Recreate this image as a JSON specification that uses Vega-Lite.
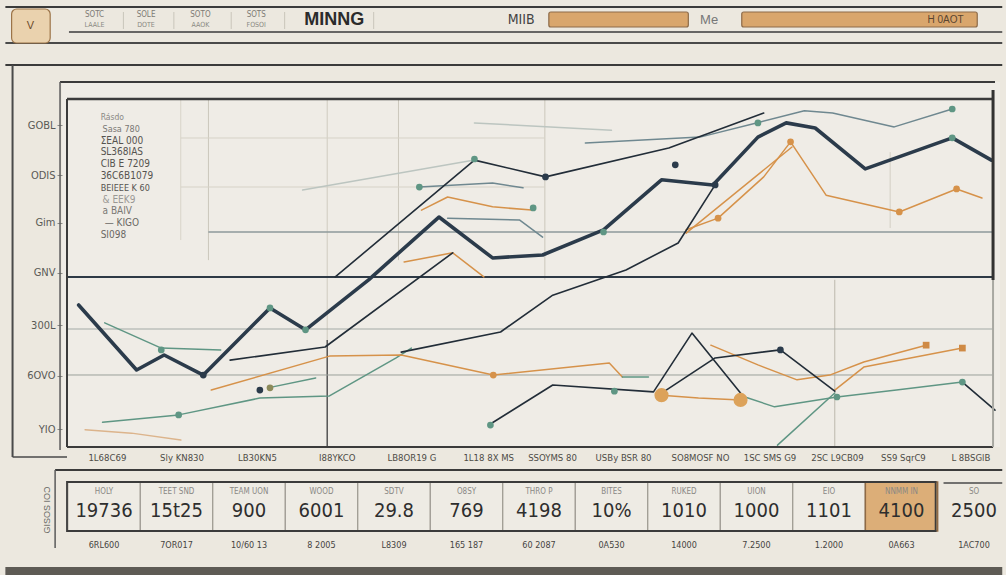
{
"$schema":"https://vega.github.io/schema/vega-lite/v6.json",
"width":938,"height":365,
"autosize":{"type":"none"},
"padding":{"left":62,"top":82,"right":6,"bottom":128},
"background":"#ece8df",
"config":{"view":{"stroke":null,"fill":"#efece6"},"font":"Liberation Sans"},
"datasets":{
"lines":[
{"s":1,"k":"navy","x":-0.24,"y":38.9},{"s":1,"k":"navy","x":0.56,"y":21.1},{"s":1,"k":"navy","x":0.94,"y":25.2},{"s":1,"k":"navy","x":1.48,"y":19.7},{"s":1,"k":"navy","x":2.40,"y":38.1},{"s":1,"k":"navy","x":2.89,"y":32.1},{"s":1,"k":"navy","x":3.76,"y":45.8},{"s":1,"k":"navy","x":4.73,"y":63.0},{"s":1,"k":"navy","x":5.47,"y":51.8},{"s":1,"k":"navy","x":6.16,"y":52.6},{"s":1,"k":"navy","x":7.00,"y":59.5},{"s":1,"k":"navy","x":7.80,"y":73.2},{"s":1,"k":"navy","x":8.51,"y":71.8},{"s":1,"k":"navy","x":9.13,"y":84.9},{"s":1,"k":"navy","x":9.52,"y":88.8},{"s":1,"k":"navy","x":9.92,"y":87.4},{"s":1,"k":"navy","x":10.61,"y":76.2},{"s":1,"k":"navy","x":11.81,"y":84.7},{"s":1,"k":"navy","x":12.35,"y":78.6},
{"s":2,"k":"ink","x":3.30,"y":46.6},{"s":2,"k":"ink","x":5.22,"y":78.6},{"s":2,"k":"ink","x":6.20,"y":74.0},{"s":2,"k":"ink","x":7.90,"y":81.9},{"s":2,"k":"ink","x":9.21,"y":91.5},
{"s":3,"k":"ink","x":4.21,"y":26.0},{"s":3,"k":"ink","x":5.58,"y":31.5},{"s":3,"k":"ink","x":6.30,"y":41.6},{"s":3,"k":"ink","x":7.31,"y":48.5},{"s":3,"k":"ink","x":8.03,"y":55.9},{"s":3,"k":"ink","x":8.54,"y":71.8},
{"s":4,"k":"ink","x":1.85,"y":23.8},{"s":4,"k":"ink","x":3.16,"y":27.4},{"s":4,"k":"ink","x":4.92,"y":53.2},
{"s":5,"k":"ink","x":5.44,"y":6.3},{"s":5,"k":"ink","x":6.30,"y":17.0},{"s":5,"k":"ink","x":7.69,"y":15.1},{"s":5,"k":"ink","x":8.22,"y":31.2},{"s":5,"k":"ink","x":8.89,"y":14.8},
{"s":6,"k":"ink","x":7.76,"y":14.2},{"s":6,"k":"ink","x":8.54,"y":24.4},{"s":6,"k":"ink","x":9.44,"y":26.6},{"s":6,"k":"ink","x":10.19,"y":15.3},
{"s":7,"k":"ink","x":11.95,"y":17.8},{"s":7,"k":"ink","x":12.40,"y":10.1},
{"s":8,"k":"slate","x":6.75,"y":83.3},{"s":8,"k":"slate","x":8.33,"y":84.9},{"s":8,"k":"slate","x":9.15,"y":89.0},{"s":8,"k":"slate","x":9.77,"y":92.1},{"s":8,"k":"slate","x":10.16,"y":91.5},{"s":8,"k":"slate","x":11.01,"y":87.7},{"s":8,"k":"slate","x":11.81,"y":92.6},
{"s":9,"k":"faint","x":5.22,"y":88.8},{"s":9,"k":"faint","x":7.11,"y":86.8},
{"s":10,"k":"faint","x":2.85,"y":70.4},{"s":10,"k":"faint","x":5.22,"y":78.6},
{"s":11,"k":"teal","x":0.09,"y":6.8},{"s":11,"k":"teal","x":1.14,"y":8.8},{"s":11,"k":"teal","x":2.26,"y":13.4},{"s":11,"k":"teal","x":3.22,"y":14.0},{"s":11,"k":"teal","x":4.14,"y":24.4},{"s":11,"k":"teal","x":4.35,"y":27.1},
{"s":12,"k":"teal","x":0.12,"y":34.0},{"s":12,"k":"teal","x":0.90,"y":27.1},{"s":12,"k":"teal","x":1.72,"y":26.6},
{"s":13,"k":"teal","x":2.37,"y":16.2},{"s":13,"k":"teal","x":3.03,"y":18.9},
{"s":14,"k":"teal","x":8.92,"y":13.9},{"s":14,"k":"teal","x":9.36,"y":11.0},{"s":14,"k":"teal","x":10.22,"y":13.7},{"s":14,"k":"teal","x":11.04,"y":15.6},{"s":14,"k":"teal","x":11.95,"y":17.8},
{"s":15,"k":"teal","x":9.40,"y":0.5},{"s":15,"k":"teal","x":10.19,"y":14.8},
{"s":16,"k":"slate","x":4.46,"y":71.2},{"s":16,"k":"slate","x":5.47,"y":72.3},{"s":16,"k":"slate","x":5.89,"y":71.0},
{"s":17,"k":"slate","x":4.85,"y":62.7},{"s":17,"k":"slate","x":5.84,"y":62.2},{"s":17,"k":"slate","x":6.16,"y":57.5},
{"s":18,"k":"lorange","x":-0.15,"y":4.7},{"s":18,"k":"lorange","x":0.49,"y":3.8},{"s":18,"k":"lorange","x":1.17,"y":1.9},
{"s":19,"k":"orange","x":1.59,"y":15.6},{"s":19,"k":"orange","x":3.22,"y":24.9},{"s":19,"k":"orange","x":4.21,"y":25.2},{"s":19,"k":"orange","x":5.48,"y":19.7},{"s":19,"k":"orange","x":7.08,"y":23.0},{"s":19,"k":"orange","x":7.26,"y":19.2},
{"s":20,"k":"orange","x":7.80,"y":14.2},{"s":20,"k":"orange","x":8.31,"y":13.4},{"s":20,"k":"orange","x":8.89,"y":12.9},
{"s":21,"k":"orange","x":8.48,"y":27.9},{"s":21,"k":"orange","x":9.13,"y":22.5},{"s":21,"k":"orange","x":9.67,"y":18.4},{"s":21,"k":"orange","x":10.12,"y":19.7},{"s":21,"k":"orange","x":10.59,"y":23.3},{"s":21,"k":"orange","x":11.45,"y":27.9},
{"s":22,"k":"orange","x":10.19,"y":15.6},{"s":22,"k":"orange","x":10.59,"y":21.9},{"s":22,"k":"orange","x":11.95,"y":27.1},
{"s":23,"k":"orange","x":4.49,"y":64.9},{"s":23,"k":"orange","x":4.85,"y":68.5},{"s":23,"k":"orange","x":5.47,"y":65.8},{"s":23,"k":"orange","x":6.01,"y":64.9},
{"s":24,"k":"orange","x":4.25,"y":50.7},{"s":24,"k":"orange","x":4.92,"y":53.2},{"s":24,"k":"orange","x":5.35,"y":46.6},
{"s":25,"k":"orange","x":8.14,"y":59.5},{"s":25,"k":"orange","x":8.58,"y":62.7},{"s":25,"k":"orange","x":9.21,"y":74.0},{"s":25,"k":"orange","x":9.58,"y":83.6},{"s":25,"k":"orange","x":10.07,"y":69.0},{"s":25,"k":"orange","x":11.08,"y":64.4},{"s":25,"k":"orange","x":11.87,"y":70.7},{"s":25,"k":"orange","x":12.22,"y":68.2},
{"s":26,"k":"orange","x":8.14,"y":58.6},{"s":26,"k":"orange","x":9.60,"y":82.2},
{"s":27,"k":"teal","x":7.26,"y":19.2},{"s":27,"k":"teal","x":7.62,"y":19.2}
],
"dots":[
{"k":"navy","x":6.20,"y":74.0},{"k":"navy","x":7.99,"y":77.3},{"k":"navy","x":8.54,"y":71.8},{"k":"navy","x":9.44,"y":26.6},{"k":"navy","x":2.26,"y":15.6},{"k":"navy","x":1.48,"y":19.7},
{"k":"teal","x":5.22,"y":78.9},{"k":"teal","x":9.13,"y":88.8},{"k":"teal","x":11.81,"y":84.7},{"k":"teal","x":11.81,"y":92.6},{"k":"teal","x":7.00,"y":58.9},{"k":"teal","x":4.46,"y":71.2},{"k":"teal","x":6.03,"y":65.5},{"k":"teal","x":2.40,"y":38.1},{"k":"teal","x":2.89,"y":32.1},{"k":"teal","x":0.90,"y":26.6},{"k":"teal","x":7.15,"y":15.3},{"k":"teal","x":10.22,"y":13.7},{"k":"teal","x":11.95,"y":17.8},{"k":"teal","x":5.44,"y":6.0},{"k":"teal","x":1.14,"y":8.8},
{"k":"orange","x":8.58,"y":62.7},{"k":"orange","x":11.08,"y":64.4},{"k":"orange","x":11.87,"y":70.7},{"k":"orange","x":5.48,"y":19.7},{"k":"orange","x":9.58,"y":83.6},
{"k":"big","x":7.80,"y":14.2},{"k":"big","x":8.89,"y":12.9},
{"k":"sq","x":11.45,"y":27.9},{"k":"sq","x":11.95,"y":27.1},
{"k":"olive","x":2.40,"y":16.2}
],
"cells":[
{"col":0,"top":"HOLY","val":"19736","bot":"6RL600"},
{"col":1,"top":"TEET SND","val":"15t25","bot":"7OR017"},
{"col":2,"top":"TEAM UON","val":"900","bot":"10/60 13"},
{"col":3,"top":"WOOD","val":"6001","bot":"8 2005"},
{"col":4,"top":"SDTV","val":"29.8","bot":"L8309"},
{"col":5,"top":"O8SY","val":"769","bot":"165 187"},
{"col":6,"top":"THRO P","val":"4198","bot":"60 2087"},
{"col":7,"top":"BITES","val":"10%","bot":"0A530"},
{"col":8,"top":"RUKED","val":"1010","bot":"14000"},
{"col":9,"top":"UION","val":"1000","bot":"7.2500"},
{"col":10,"top":"EIO","val":"1101","bot":"1.2000"},
{"col":11,"top":"NNMM IN","val":"4100","bot":"0A663"},
{"col":12,"top":"SO","val":"2500","bot":"1AC700"}
],
"hdr":[
{"t":"SOTC","at":-0.02,"r":1},{"t":"LAALE","at":-0.02,"r":2},
{"t":"SOLE","at":0.69,"r":1},{"t":"DOTE","at":0.69,"r":2},
{"t":"SOTO","at":1.44,"r":1},{"t":"AAOK","at":1.44,"r":2},
{"t":"SOTS","at":2.21,"r":1},{"t":"FOSOI","at":2.21,"r":2}
]
},
"layer":[
{"data":{"values":[{}]},"mark":{"type":"rule","color":"#3b3b3b","strokeWidth":2},"encoding":{"x":{"datum":-1.25},"x2":{"datum":12.5},"y":{"datum":120.55}}},
{"data":{"values":[{}]},"mark":{"type":"rule","color":"#3b3b3b","strokeWidth":1.5},"encoding":{"x":{"datum":-0.373},"x2":{"datum":12.5},"y":{"datum":113.7}}},
{"data":{"values":[{}]},"mark":{"type":"rule","color":"#4a4a4a","strokeWidth":2.2},"encoding":{"x":{"datum":-1.25},"x2":{"datum":12.5},"y":{"datum":110.68}}},
{"data":{"values":[{}]},"mark":{"type":"rect","fill":"#ead2ae","stroke":"#9c7448","strokeWidth":1.2,"cornerRadius":5},"encoding":{"x":{"datum":-1.164},"x2":{"datum":-0.632},"y":{"datum":120.0},"y2":{"datum":110.68}}},
{"data":{"values":[{}]},"mark":{"type":"text","text":"V","fontSize":11,"color":"#6b4a2a","baseline":"middle"},"encoding":{"x":{"datum":-0.905},"y":{"datum":115.4}}},
{"data":{"values":[{}]},"mark":{"type":"rule","color":"#c9c5ba","strokeWidth":1},"encoding":{"x":{"datum":0.378},"y":{"datum":119.18},"y2":{"datum":114.52}}},
{"data":{"values":[{}]},"mark":{"type":"rule","color":"#c9c5ba","strokeWidth":1},"encoding":{"x":{"datum":1.074},"y":{"datum":119.18},"y2":{"datum":114.52}}},
{"data":{"values":[{}]},"mark":{"type":"rule","color":"#c9c5ba","strokeWidth":1},"encoding":{"x":{"datum":1.865},"y":{"datum":119.18},"y2":{"datum":114.52}}},
{"data":{"values":[{}]},"mark":{"type":"rule","color":"#c9c5ba","strokeWidth":1},"encoding":{"x":{"datum":2.602},"y":{"datum":119.18},"y2":{"datum":114.52}}},
{"data":{"values":[{}]},"mark":{"type":"rule","color":"#c9c5ba","strokeWidth":1},"encoding":{"x":{"datum":3.83},"y":{"datum":119.18},"y2":{"datum":114.52}}},
{"data":{"values":[{}]},"mark":{"type":"rect","fill":"#d9a66c","stroke":"#8d6b49","strokeWidth":1.2,"cornerRadius":2},"encoding":{"x":{"datum":6.246},"x2":{"datum":8.17},"y":{"datum":119.18},"y2":{"datum":115.07}}},
{"data":{"values":[{}]},"mark":{"type":"rect","fill":"#d9a66c","stroke":"#8d6b49","strokeWidth":1.2,"cornerRadius":2},"encoding":{"x":{"datum":8.907},"x2":{"datum":12.155},"y":{"datum":119.18},"y2":{"datum":115.07}}},
{"data":{"name":"hdr"},"transform":[{"filter":"datum.r==1"}],"mark":{"type":"text","fontSize":8,"color":"#7d7b75","baseline":"middle","font":"Liberation Sans Narrow, DejaVu Sans Condensed, Liberation Sans, sans-serif"},"encoding":{"x":{"field":"at","type":"quantitative","title":null},"y":{"datum":118.36},"text":{"field":"t"}}},
{"data":{"name":"hdr"},"transform":[{"filter":"datum.r==2"}],"mark":{"type":"text","fontSize":7,"color":"#8a8882","baseline":"middle","font":"Liberation Sans Narrow, DejaVu Sans Condensed, Liberation Sans, sans-serif"},"encoding":{"x":{"field":"at","type":"quantitative","title":null},"y":{"datum":115.62},"text":{"field":"t"}}},
{"data":{"values":[{}]},"mark":{"type":"text","text":"MINNG","fontSize":18,"fontWeight":"bold","color":"#2b2b2b","baseline":"middle"},"encoding":{"x":{"datum":3.285},"y":{"datum":117.0}}},
{"data":{"values":[{}]},"mark":{"type":"text","text":"MIIB","fontSize":14,"color":"#444444","baseline":"middle","font":"Liberation Sans Narrow, DejaVu Sans Condensed, Liberation Sans, sans-serif"},"encoding":{"x":{"datum":5.864},"y":{"datum":117.0}}},
{"data":{"values":[{}]},"mark":{"type":"text","text":"Me","fontSize":13,"color":"#777777","baseline":"middle"},"encoding":{"x":{"datum":8.457},"y":{"datum":117.0}}},
{"data":{"values":[{}]},"mark":{"type":"text","text":"H 0AOT","fontSize":10,"color":"#5a4530","baseline":"middle"},"encoding":{"x":{"datum":11.718},"y":{"datum":117.0}}},
{"data":{"values":[{}]},"mark":{"type":"rule","color":"#3b3b3b","strokeWidth":2},"encoding":{"x":{"datum":-1.25},"x2":{"datum":12.5},"y":{"datum":104.66}}},
{"data":{"values":[{}]},"mark":{"type":"rule","color":"#4a4a4a","strokeWidth":2},"encoding":{"x":{"datum":-1.151},"y":{"datum":104.66},"y2":{"datum":-2.74}}},
{"data":{"values":[{}]},"mark":{"type":"rule","color":"#4a4a4a","strokeWidth":1.5},"encoding":{"x":{"datum":-1.151},"x2":{"datum":-0.4},"y":{"datum":-2.74}}},
{"data":{"values":[{}]},"mark":{"type":"rule","color":"#3b3b3b","strokeWidth":2},"encoding":{"x":{"datum":-0.496},"x2":{"datum":12.4},"y":{"datum":100}}},
{"data":{"values":[{}]},"mark":{"type":"rule","color":"#5a5a5a","strokeWidth":1.5},"encoding":{"x":{"datum":-0.496},"y":{"datum":100},"y2":{"datum":-0.82}}},
{"data":{"values":[{}]},"mark":{"type":"rule","color":"#d8d4c9","strokeWidth":1},"encoding":{"x":{"datum":1.169},"y":{"datum":95.1},"y2":{"datum":56.7}}},
{"data":{"values":[{}]},"mark":{"type":"rule","color":"#cbc7bc","strokeWidth":1},"encoding":{"x":{"datum":1.551},"y":{"datum":95.1},"y2":{"datum":51.2}}},
{"data":{"values":[{}]},"mark":{"type":"rule","color":"#cfcbc0","strokeWidth":1},"encoding":{"x":{"datum":3.189},"y":{"datum":95.1},"y2":{"datum":29.3}}},
{"data":{"values":[{}]},"mark":{"type":"rule","color":"#4a4a4a","strokeWidth":1.4},"encoding":{"x":{"datum":3.189},"y":{"datum":29.3},"y2":{"datum":0}}},
{"data":{"values":[{}]},"mark":{"type":"rule","color":"#cbc7bc","strokeWidth":1},"encoding":{"x":{"datum":4.172},"y":{"datum":95.1},"y2":{"datum":51.2}}},
{"data":{"values":[{}]},"mark":{"type":"rule","color":"#cbc7bc","strokeWidth":1},"encoding":{"x":{"datum":6.191},"y":{"datum":95.1},"y2":{"datum":45.8}}},
{"data":{"values":[{}]},"mark":{"type":"rule","color":"#bdb9ae","strokeWidth":1},"encoding":{"x":{"datum":10.19},"y":{"datum":45.8},"y2":{"datum":0}}},
{"data":{"values":[{}]},"mark":{"type":"rule","color":"#d3cfc4","strokeWidth":1},"encoding":{"x":{"datum":10.954},"y":{"datum":80.8},"y2":{"datum":60}}},
{"data":{"values":[{}]},"mark":{"type":"rule","color":"#d6d2c7","strokeWidth":1},"encoding":{"x":{"datum":1.169},"x2":{"datum":6.19},"y":{"datum":84.66}}},
{"data":{"values":[{}]},"mark":{"type":"rule","color":"#d6d2c7","strokeWidth":1},"encoding":{"x":{"datum":1.169},"x2":{"datum":6.19},"y":{"datum":71.23}}},
{"data":{"values":[{}]},"mark":{"type":"rule","color":"#8e9a9b","strokeWidth":1.3},"encoding":{"x":{"datum":1.55},"x2":{"datum":12.37},"y":{"datum":58.9}}},
{"data":{"values":[{}]},"mark":{"type":"rule","color":"#2e3a46","strokeWidth":2.2},"encoding":{"x":{"datum":-0.4},"x2":{"datum":12.37},"y":{"datum":46.58}}},
{"data":{"values":[{}]},"mark":{"type":"rule","color":"#a3a9a5","strokeWidth":1.2},"encoding":{"x":{"datum":-0.4},"x2":{"datum":12.37},"y":{"datum":32.33}}},
{"data":{"values":[{}]},"mark":{"type":"rule","color":"#9aa09b","strokeWidth":1},"encoding":{"x":{"datum":-0.4},"x2":{"datum":12.37},"y":{"datum":19.73}}},
{"data":{"name":"lines"},"transform":[{"filter":"datum.k!='navy' && datum.k!='ink'"}],"mark":{"type":"line","strokeCap":"round","strokeJoin":"round","strokeWidth":1.5},
 "encoding":{
  "x":{"field":"x","type":"quantitative","title":null},
  "y":{"field":"y","type":"quantitative","title":null},
  "detail":{"field":"s"},
  "color":{"field":"k","type":"nominal","scale":{"domain":["navy","ink","slate","teal","orange","faint","lorange","big","sq","olive"],"range":["#2b3b4b","#222d38","#6f8890","#5f9684","#d6924a","#bcc5c0","#dcb48c","#dca25a","#cf8a45","#8c8a5a"]},"legend":null}
 }},
{"data":{"name":"lines"},"transform":[{"filter":"datum.k=='ink'"}],"mark":{"type":"line","strokeCap":"round","strokeJoin":"round","strokeWidth":1.6},
 "encoding":{
  "x":{"field":"x","type":"quantitative","title":null},
  "y":{"field":"y","type":"quantitative","title":null},
  "detail":{"field":"s"},
  "color":{"field":"k","type":"nominal","scale":{"domain":["navy","ink","slate","teal","orange","faint","lorange","big","sq","olive"],"range":["#2b3b4b","#222d38","#6f8890","#5f9684","#d6924a","#bcc5c0","#dcb48c","#dca25a","#cf8a45","#8c8a5a"]},"legend":null}
 }},
{"data":{"name":"lines"},"transform":[{"filter":"datum.k=='navy'"}],"mark":{"type":"line","strokeCap":"round","strokeJoin":"round","strokeWidth":3.6},
 "encoding":{
  "x":{"field":"x","type":"quantitative","title":null,"scale":{"domain":[-0.4,12.4],"nice":false,"zero":false},
       "axis":{"values":[0.15,1.18,2.22,3.32,4.35,5.41,6.29,7.27,8.33,9.29,10.22,11.13,12.06],
               "labelExpr":"['1L68C69','Sly KN830','LB30KN5','I88YKCO','LB8OR19 G','1L18 8X MS','SSOYMS 80','USBy BSR 80','SO8MOSF NO','1SC SMS G9','2SC L9CB09','SS9 SqrC9','L 8BSGlB'][indexof([0.15,1.18,2.22,3.32,4.35,5.41,6.29,7.27,8.33,9.29,10.22,11.13,12.06],datum.value)]",
               "domain":false,"ticks":false,"grid":false,"labelPadding":5,"labelFontSize":9.5,"labelColor":"#4d4b46","labelFont":"Liberation Sans Narrow, DejaVu Sans Condensed, Liberation Sans, sans-serif","labelOverlap":false,"labelFlush":false,"labelBound":false,"title":null}},
  "y":{"field":"y","type":"quantitative","title":null,"scale":{"domain":[0,100],"nice":false,"zero":false},
       "axis":{"values":[88.2,74.5,61.4,47.7,33.4,19.5,4.9],
               "labelExpr":"['GOBL','ODIS','Gim','GNV','300L','6OVO','YIO'][indexof([88.2,74.5,61.4,47.7,33.4,19.5,4.9],datum.value)]",
               "domain":false,"grid":false,"ticks":true,"tickSize":5,"tickColor":"#8a8a86","labelPadding":2,"labelFontSize":11,"labelColor":"#5a5a56","labelFont":"Liberation Sans Narrow, DejaVu Sans Condensed, Liberation Sans, sans-serif","labelOverlap":false,"labelFlush":false,"labelBound":false,"title":null}},
  "detail":{"field":"s"},
  "color":{"field":"k","type":"nominal","scale":{"domain":["navy","ink","slate","teal","orange","faint","lorange","big","sq","olive"],"range":["#2b3b4b","#222d38","#6f8890","#5f9684","#d6924a","#bcc5c0","#dcb48c","#dca25a","#cf8a45","#8c8a5a"]},"legend":null}
 }},
{"data":{"name":"dots"},"transform":[{"filter":"datum.k!='big' && datum.k!='sq'"}],"mark":{"type":"point","filled":true,"opacity":1,"size":45},
 "encoding":{
  "x":{"field":"x","type":"quantitative","title":null},
  "y":{"field":"y","type":"quantitative","title":null},
  "color":{"field":"k","type":"nominal","scale":{"domain":["navy","ink","slate","teal","orange","faint","lorange","big","sq","olive"],"range":["#2b3b4b","#222d38","#6f8890","#5f9684","#d6924a","#bcc5c0","#dcb48c","#dca25a","#cf8a45","#8c8a5a"]},"legend":null}
 }},
{"data":{"name":"dots"},"transform":[{"filter":"datum.k=='big'"}],"mark":{"type":"point","filled":true,"opacity":1,"size":200},
 "encoding":{
  "x":{"field":"x","type":"quantitative","title":null},
  "y":{"field":"y","type":"quantitative","title":null},
  "color":{"field":"k","type":"nominal","scale":{"domain":["navy","ink","slate","teal","orange","faint","lorange","big","sq","olive"],"range":["#2b3b4b","#222d38","#6f8890","#5f9684","#d6924a","#bcc5c0","#dcb48c","#dca25a","#cf8a45","#8c8a5a"]},"legend":null}
 }},
{"data":{"name":"dots"},"transform":[{"filter":"datum.k=='sq'"}],"mark":{"type":"point","filled":true,"opacity":1,"size":45,"shape":"square"},
 "encoding":{
  "x":{"field":"x","type":"quantitative","title":null},
  "y":{"field":"y","type":"quantitative","title":null},
  "color":{"field":"k","type":"nominal","scale":{"domain":["navy","ink","slate","teal","orange","faint","lorange","big","sq","olive"],"range":["#2b3b4b","#222d38","#6f8890","#5f9684","#d6924a","#bcc5c0","#dcb48c","#dca25a","#cf8a45","#8c8a5a"]},"legend":null}
 }},
{"data":{"values":[{}]},"mark":{"type":"rule","color":"#3b3b3b","strokeWidth":2.5},"encoding":{"x":{"datum":-0.4},"x2":{"datum":12.373},"y":{"datum":95.34}}},
{"data":{"values":[{}]},"mark":{"type":"rule","color":"#3b3b3b","strokeWidth":2},"encoding":{"x":{"datum":-0.4},"y":{"datum":95.34},"y2":{"datum":0}}},
{"data":{"values":[{}]},"mark":{"type":"rule","color":"#3b3b3b","strokeWidth":2},"encoding":{"x":{"datum":-0.4},"x2":{"datum":12.373},"y":{"datum":0}}},
{"data":{"values":[{}]},"mark":{"type":"rule","color":"#333333","strokeWidth":3},"encoding":{"x":{"datum":12.373},"y":{"datum":97.81},"y2":{"datum":45.75}}},
{"data":{"values":[{}]},"mark":{"type":"rule","color":"#a8a8a2","strokeWidth":2},"encoding":{"x":{"datum":12.373},"y":{"datum":45.75},"y2":{"datum":0}}},
{"data":{"values":[{}]},"mark":{"type":"text","text":"Rásdo","align":"left","baseline":"middle","fontSize":8.5,"color":"#8a8884","font":"Liberation Sans Narrow, DejaVu Sans Condensed, Liberation Sans, sans-serif"},"encoding":{"x":{"datum":0.064},"y":{"datum":90.41}}},
{"data":{"values":[{}]},"mark":{"type":"text","text":"Sasa 780","align":"left","baseline":"middle","fontSize":9,"color":"#7a7874","font":"Liberation Sans Narrow, DejaVu Sans Condensed, Liberation Sans, sans-serif"},"encoding":{"x":{"datum":0.09},"y":{"datum":87.18}}},
{"data":{"values":[{}]},"mark":{"type":"text","text":"ΣEAL 000","align":"left","baseline":"middle","fontSize":10,"color":"#55534f","font":"Liberation Sans Narrow, DejaVu Sans Condensed, Liberation Sans, sans-serif"},"encoding":{"x":{"datum":0.064},"y":{"datum":83.95}}},
{"data":{"values":[{}]},"mark":{"type":"text","text":"SL368IAS","align":"left","baseline":"middle","fontSize":10,"color":"#55534f","font":"Liberation Sans Narrow, DejaVu Sans Condensed, Liberation Sans, sans-serif"},"encoding":{"x":{"datum":0.064},"y":{"datum":80.71}}},
{"data":{"values":[{}]},"mark":{"type":"text","text":"CIB E 7209","align":"left","baseline":"middle","fontSize":10,"color":"#55534f","font":"Liberation Sans Narrow, DejaVu Sans Condensed, Liberation Sans, sans-serif"},"encoding":{"x":{"datum":0.064},"y":{"datum":77.48}}},
{"data":{"values":[{}]},"mark":{"type":"text","text":"36C6B1079","align":"left","baseline":"middle","fontSize":10,"color":"#55534f","font":"Liberation Sans Narrow, DejaVu Sans Condensed, Liberation Sans, sans-serif"},"encoding":{"x":{"datum":0.064},"y":{"datum":74.25}}},
{"data":{"values":[{}]},"mark":{"type":"text","text":"BEIEEE K 60","align":"left","baseline":"middle","fontSize":9,"color":"#55534f","font":"Liberation Sans Narrow, DejaVu Sans Condensed, Liberation Sans, sans-serif"},"encoding":{"x":{"datum":0.064},"y":{"datum":71.01}}},
{"data":{"values":[{}]},"mark":{"type":"text","text":"& EEK9","align":"left","baseline":"middle","fontSize":10,"color":"#9a9894","font":"Liberation Sans Narrow, DejaVu Sans Condensed, Liberation Sans, sans-serif"},"encoding":{"x":{"datum":0.09},"y":{"datum":67.78}}},
{"data":{"values":[{}]},"mark":{"type":"text","text":"a BAIV","align":"left","baseline":"middle","fontSize":10,"color":"#7a7874","font":"Liberation Sans Narrow, DejaVu Sans Condensed, Liberation Sans, sans-serif"},"encoding":{"x":{"datum":0.09},"y":{"datum":64.55}}},
{"data":{"values":[{}]},"mark":{"type":"text","text":"— KIGO","align":"left","baseline":"middle","fontSize":10,"color":"#6a6864","font":"Liberation Sans Narrow, DejaVu Sans Condensed, Liberation Sans, sans-serif"},"encoding":{"x":{"datum":0.12},"y":{"datum":61.32}}},
{"data":{"values":[{}]},"mark":{"type":"text","text":"SI098","align":"left","baseline":"middle","fontSize":10,"color":"#6a6864","font":"Liberation Sans Narrow, DejaVu Sans Condensed, Liberation Sans, sans-serif"},"encoding":{"x":{"datum":0.064},"y":{"datum":58.08}}},
{"data":{"values":[{}]},"mark":{"type":"rule","color":"#3b3b3b","strokeWidth":2},"encoding":{"x":{"datum":-0.564},"x2":{"datum":12.5},"y":{"datum":-6.3}}},
{"data":{"values":[{}]},"mark":{"type":"rule","color":"#5a5a5a","strokeWidth":1.5},"encoding":{"x":{"datum":-0.564},"y":{"datum":-6.3},"y2":{"datum":-27.67}}},
{"data":{"values":[{}]},"mark":{"type":"text","text":"GISOS IOƆ","angle":270,"fontSize":9,"color":"#6a6a66","baseline":"middle"},"encoding":{"x":{"datum":-0.673},"y":{"datum":-17.26}}},
{"data":{"name":"cells"},"transform":[{"filter":"datum.col<=10"}],"mark":{"type":"bar","orient":"vertical","width":72.3,"xOffset":8,"fill":"#eeebe4","stroke":"#9a978f","strokeWidth":1},
 "encoding":{"x":{"field":"col","type":"quantitative","title":null},"y":{"datum":-9.59},"y2":{"datum":-23.01}}},
{"data":{"name":"cells"},"transform":[{"filter":"datum.col==11"}],"mark":{"type":"bar","orient":"vertical","width":72.3,"xOffset":8,"fill":"#dcae78","stroke":"#8f6a45","strokeWidth":1.5},
 "encoding":{"x":{"field":"col","type":"quantitative","title":null},"y":{"datum":-9.59},"y2":{"datum":-23.01}}},
{"data":{"values":[{}]},"mark":{"type":"rect","fill":"transparent","stroke":"#3b3b3b","strokeWidth":1.8},"encoding":{"x":{"datum":-0.4},"x2":{"datum":11.581},"y":{"datum":-9.59},"y2":{"datum":-23.01}}},
{"data":{"values":[{}]},"mark":{"type":"rule","color":"#4a4a4a","strokeWidth":1.5},"encoding":{"x":{"datum":11.69},"x2":{"datum":12.5},"y":{"datum":-9.86}}},
{"data":{"name":"cells"},"mark":{"type":"text","xOffset":8,"fontSize":8,"color":"#8a8884","baseline":"middle","font":"Liberation Sans Narrow, DejaVu Sans Condensed, Liberation Sans, sans-serif"},
 "encoding":{"x":{"field":"col","type":"quantitative","title":null},"y":{"datum":-12.45},"text":{"field":"top"}}},
{"data":{"name":"cells"},"mark":{"type":"text","xOffset":8,"fontSize":20,"color":"#2e2e2e","baseline":"middle","font":"Liberation Sans Narrow, DejaVu Sans Condensed, Liberation Sans, sans-serif"},
 "encoding":{"x":{"field":"col","type":"quantitative","title":null},"y":{"datum":-17.4},"text":{"field":"val"}}},
{"data":{"name":"cells"},"mark":{"type":"text","xOffset":8,"fontSize":9,"color":"#46443f","baseline":"middle","font":"Liberation Sans Narrow, DejaVu Sans Condensed, Liberation Sans, sans-serif"},
 "encoding":{"x":{"field":"col","type":"quantitative","title":null},"y":{"datum":-26.85},"text":{"field":"bot"}}},
{"data":{"values":[{}]},"mark":{"type":"rect","fill":"#5e5b55"},"encoding":{"x":{"datum":-1.25},"x2":{"datum":12.5},"y":{"datum":-32.88},"y2":{"datum":-35.07}}}
]
}
